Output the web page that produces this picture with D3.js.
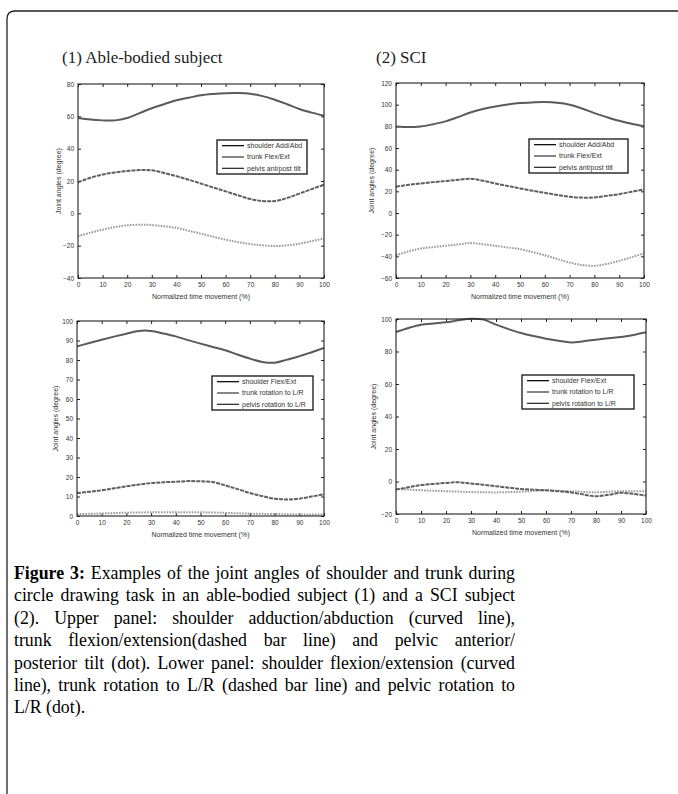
<!DOCTYPE html>
<html>
<head>
<meta charset="utf-8">
<title>Joint angles figure</title>
<script src="https://d3js.org/d3.v7.min.js"></script>
<style>
  body { margin:0; background:#fff; }
  .tick text { font-family:"Liberation Sans", Arial, sans-serif; font-size:6.5px; fill:#333; }
  .domain { display:none; }
  .tick line { stroke:#222; }
</style>
</head>
<body>
<svg id="fig" width="678" height="794"></svg>
<script>
"use strict";

// time axis (% of movement)
const time = [0,5,10,15,20,25,30,35,40,45,50,55,60,65,70,75,80,85,90,95,100];

// (1) able-bodied, upper panel
const abShoulderAdd = [59,58,57.5,57.5,59,62,65,67.5,70,71.5,73,73.8,74.3,74.4,74,72.5,70.3,67.5,64.5,62.3,60.4];
const abTrunkFlex   = [19.2,22,24,25.3,26.2,26.8,26.6,25,23,20.8,18.4,16,13.6,11.2,8.9,7.6,7.6,9.5,12.2,15,17.7];
const abPelvisTilt  = [-14.2,-12,-10.1,-8.5,-7.4,-7,-7.2,-8,-9,-10.8,-12.6,-14.5,-16.3,-17.8,-19,-19.8,-20.2,-19.8,-18.8,-17.2,-15.5];

// (2) SCI, upper panel
const sciShoulderAdd = [79.9,79.3,79.9,82,84.6,88.5,92.8,96,98.4,100.2,101.5,102.1,102.4,101.8,100,96.5,92.2,88.5,85.1,82.3,79.9];
const sciTrunkFlex   = [24.3,26,27.3,28.5,29.5,30.6,31.7,29.8,27.3,25,22.7,20.6,18.6,16.7,15,14.2,14.4,15.8,17.4,19.6,21.8];
const sciPelvisTilt  = [-39,-35.5,-32.8,-31.5,-30.3,-29,-27.8,-28.8,-30.3,-31.8,-33.4,-36,-39,-42.5,-45.7,-48,-48.8,-47,-44.2,-40.8,-37.3];

// (1) able-bodied, lower panel
const abShoulderFlex = [87,88.7,90.4,92,93.5,94.9,94.9,93.6,92.1,90.2,88.4,86.7,85,82.8,80.7,79,78.6,80.2,81.9,84,86.2];
const abTrunkRot     = [11.8,12.4,13.2,14.2,15.2,16.1,16.9,17.3,17.6,17.9,17.8,17.4,15.7,13.8,11.8,10.2,8.9,8.5,8.9,10,11.1];
const abPelvisRot    = [0.9,1.1,1.3,1.5,1.7,1.8,1.9,1.9,1.9,1.9,1.9,1.8,1.6,1.4,1.2,1.1,1,0.9,0.8,0.8,0.7];

// (2) SCI, lower panel
const sciShoulderFlex = [92,94.5,96.5,97.3,98,99.2,100.2,99.6,96.5,93.8,91.4,89.5,87.9,86.6,85.6,86.3,87.3,88.2,88.9,90.2,91.8];
const sciTrunkRot     = [-5,-3.5,-2.2,-1.5,-0.9,-0.5,-1.3,-2,-2.9,-3.8,-4.6,-5,-5.4,-6,-6.7,-8,-9.1,-8.2,-7,-7.6,-8.7];
const sciPelvisRot    = [-4.6,-5,-5.4,-5.7,-6,-6.2,-6.5,-6.6,-6.7,-6.5,-6.3,-5.8,-5.4,-5.7,-6,-6.4,-6.7,-6.3,-6,-6,-6];

const upperLegend = ["shoulder Add/Abd", "trunk Flex/Ext", "pelvis ant/post tilt"];
const lowerLegend = ["shoulder Flex/Ext", "trunk rotation to L/R", "pelvis rotation to L/R"];
const panelTitles = ["(1) Able-bodied subject", "(2) SCI"];
const xLabel = "Normalized time movement (%)";
const yLabel = "Joint angles (degree)";

const captionLines = [
  "Figure 3: Examples of the joint angles of shoulder and trunk during",
  "circle drawing task in an able-bodied subject (1) and a SCI subject",
  "(2). Upper panel: shoulder adduction/abduction (curved line),",
  "trunk flexion/extension(dashed bar line) and pelvic anterior/",
  "posterior tilt (dot). Lower panel: shoulder flexion/extension (curved",
  "line), trunk rotation to L/R (dashed bar line) and pelvic rotation to",
  "L/R (dot)."
];

const svg = d3.select("#fig");

// outer frame (open on right/bottom)
svg.append("path")
  .attr("d", "M7,794 L7,19 Q7,11 15,11 L678,11")
  .attr("fill", "none").attr("stroke", "#222").attr("stroke-width", 1.3);

// line styles: shoulder solid, trunk dashed, pelvis dotted
const styles = [
  { stroke:"#5a5a5a", dash:null, w:2 },
  { stroke:"#5e5e5e", dash:"4,1", w:2 },
  { stroke:"#9a9a9a", dash:"1.6,1.2", w:2 }
];

const panels = [
  { x0:78, x1:324, y0:84, y1:278, dom:[-40,80], step:20, series:[abShoulderAdd, abTrunkFlex, abPelvisTilt], legend:upperLegend, lg:[217,140,307,174], ylx:59 },
  { x0:396, x1:644, y0:83, y1:278, dom:[-60,120], step:20, series:[sciShoulderAdd, sciTrunkFlex, sciPelvisTilt], legend:upperLegend, lg:[529,139,628,173], ylx:372 },
  { x0:77, x1:324, y0:321, y1:516, dom:[0,100], step:10, series:[abShoulderFlex, abTrunkRot, abPelvisRot], legend:lowerLegend, lg:[212,376,313,410], ylx:56 },
  { x0:396, x1:646, y0:319, y1:514, dom:[-20,100], step:20, series:[sciShoulderFlex, sciTrunkRot, sciPelvisRot], legend:lowerLegend, lg:[522,375,634,409], ylx:374 }
];

panels.forEach(p => {
  const x = d3.scaleLinear().domain([0,100]).range([p.x0, p.x1]);
  const y = d3.scaleLinear().domain(p.dom).range([p.y1, p.y0]);
  const yTicks = d3.range(p.dom[0], p.dom[1] + 0.001, p.step);
  const xTicks = d3.range(0, 101, 10);
  const g = svg.append("g");

  g.append("g").attr("transform", `translate(0,${p.y1})`)
    .call(d3.axisBottom(x).tickValues(xTicks).tickSizeInner(-3).tickSizeOuter(0).tickPadding(4));
  g.append("g").attr("transform", `translate(0,${p.y0})`)
    .call(d3.axisTop(x).tickValues(xTicks).tickSizeInner(-3).tickSizeOuter(0).tickFormat(""));
  g.append("g").attr("transform", `translate(${p.x0},0)`)
    .call(d3.axisLeft(y).tickValues(yTicks).tickSizeInner(-3).tickSizeOuter(0).tickPadding(4));
  g.append("g").attr("transform", `translate(${p.x1},0)`)
    .call(d3.axisRight(y).tickValues(yTicks).tickSizeInner(-3).tickSizeOuter(0).tickFormat(""));

  const line = d3.line().x((d,i) => x(time[i])).y(d => y(d)).curve(d3.curveCatmullRom);
  p.series.slice().reverse().forEach((s, ri) => {
    const st = styles[2 - ri];
    g.append("path").datum(s).attr("d", line)
      .attr("fill", "none").attr("stroke", st.stroke)
      .attr("stroke-width", st.w)
      .attr("stroke-dasharray", st.dash);
  });

  g.append("rect").attr("x", p.x0).attr("y", p.y0)
    .attr("width", p.x1 - p.x0).attr("height", p.y1 - p.y0)
    .attr("fill", "none").attr("stroke", "#222").attr("stroke-width", 1.1);

  g.append("text").attr("x", (p.x0 + p.x1) / 2).attr("y", p.y1 + 21)
    .attr("text-anchor", "middle")
    .style("font-family", "Liberation Sans, Arial, sans-serif").style("font-size", "7px").style("fill", "#333")
    .text(xLabel);
  g.append("text")
    .attr("transform", `translate(${p.ylx},${(p.y0 + p.y1) / 2}) rotate(-90)`)
    .attr("text-anchor", "middle").attr("dy", "0.35em")
    .style("font-family", "Liberation Sans, Arial, sans-serif").style("font-size", "7px").style("fill", "#333")
    .text(yLabel);

  // legend
  const [lx0, ly0, lx1, ly1] = p.lg;
  g.append("rect").attr("x", lx0).attr("y", ly0).attr("width", lx1 - lx0).attr("height", ly1 - ly0)
    .attr("fill", "#fff").attr("stroke", "#111").attr("stroke-width", 1.3);
  const rowH = (ly1 - ly0) / 3;
  const legColors = ["#111", "#444", "#333"];
  p.legend.forEach((name, i) => {
    const cy = ly0 + rowH * (i + 0.5);
    g.append("line").attr("x1", lx0 + 5).attr("x2", lx0 + 27).attr("y1", cy).attr("y2", cy)
      .attr("stroke", legColors[i]).attr("stroke-width", 1.3);
    g.append("text").attr("x", lx0 + 30).attr("y", cy).attr("dy", "0.35em")
      .style("font-family", "Liberation Sans, Arial, sans-serif").style("font-size", "7px").style("fill", "#333")
      .text(name);
  });
});

// panel titles
svg.append("text").attr("x", 62).attr("y", 63).text(panelTitles[0])
  .style("font-family", "Liberation Serif, Times New Roman, serif").style("font-size", "17px").style("fill", "#222");
svg.append("text").attr("x", 376).attr("y", 63).text(panelTitles[1])
  .style("font-family", "Liberation Serif, Times New Roman, serif").style("font-size", "17px").style("fill", "#222");

// caption, justified word by word
const capLeft = 14, capRight = 515, capTop = 579, capLead = 22.4;
captionLines.forEach((ln, li) => {
  const words = ln.split(" ");
  const t = svg.append("text").attr("y", capTop + li * capLead)
    .style("font-family", "Liberation Serif, Times New Roman, serif").style("font-size", "17.8px").style("fill", "#000");
  const spans = words.map((w, wi) => {
    const bold = li === 0 && wi < 2;
    return t.append("tspan").text(w).style("font-weight", bold ? "bold" : "normal");
  });
  const widths = spans.map(s => s.node().getComputedTextLength());
  const total = d3.sum(widths);
  const last = li === captionLines.length - 1;
  const gap = last ? 4.4 : (capRight - capLeft - total) / (words.length - 1);
  let cx = capLeft;
  spans.forEach((s, i) => { s.attr("x", cx); cx += widths[i] + gap; });
});
</script>
</body>
</html>
